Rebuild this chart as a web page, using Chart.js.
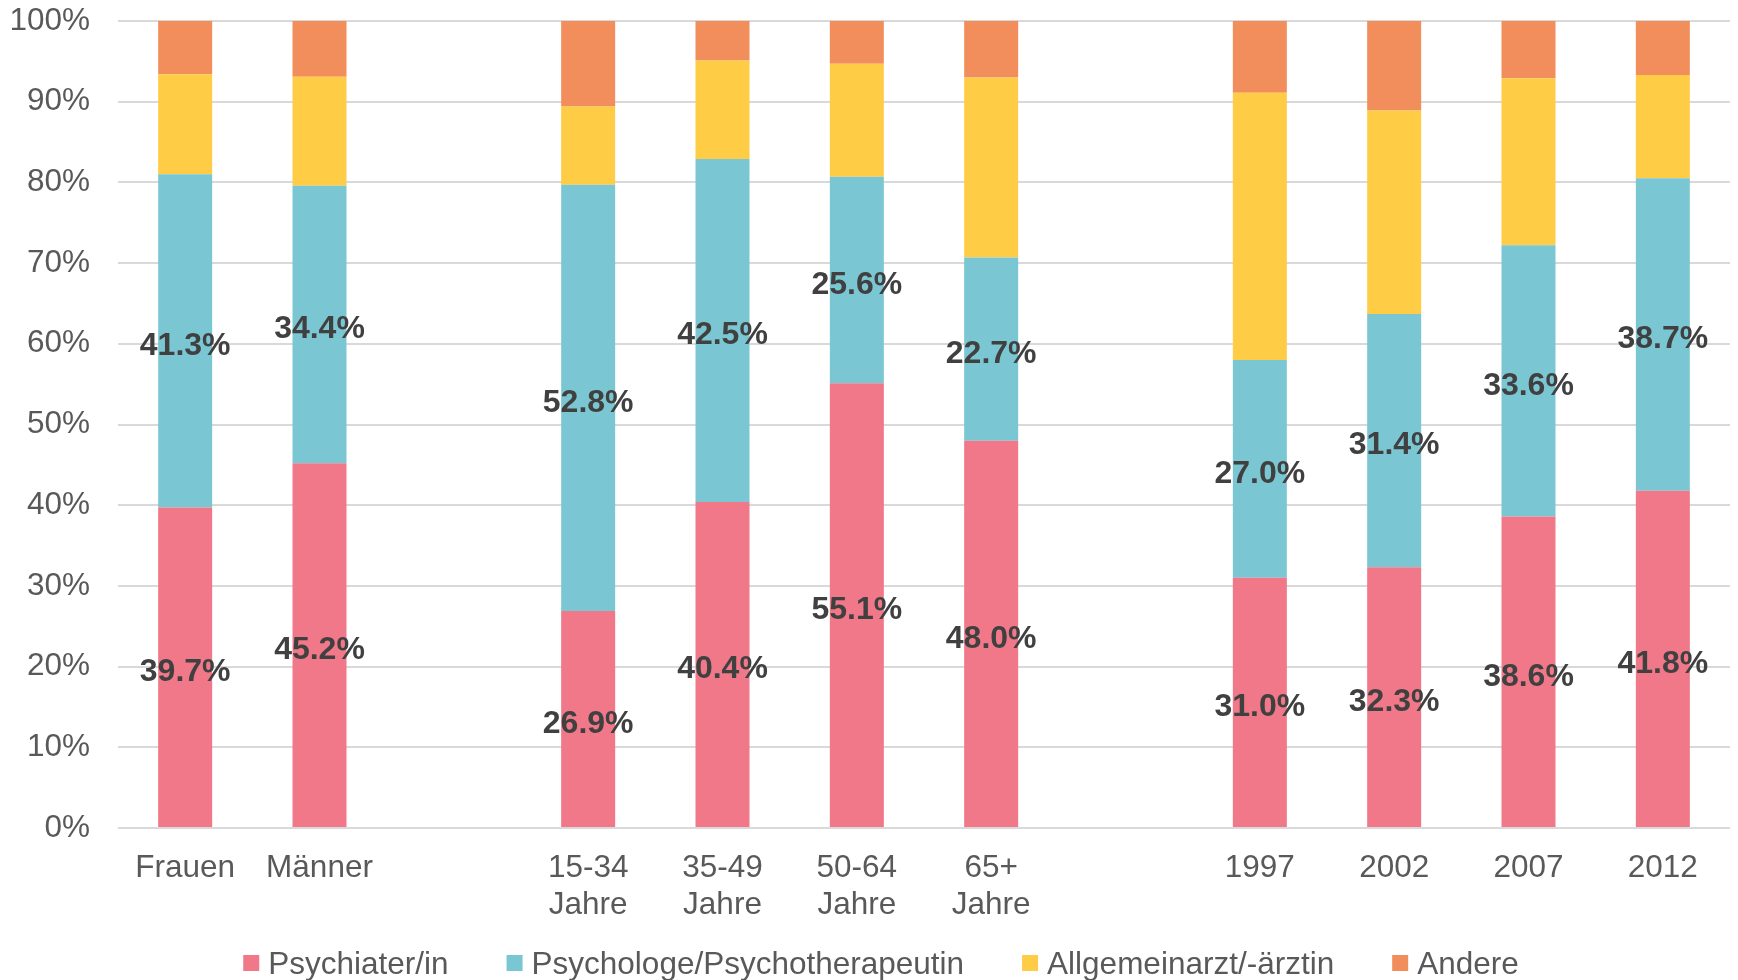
<!DOCTYPE html>
<html>
<head>
<meta charset="utf-8">
<title>Behandelnde Fachpersonen</title>
<script src="https://cdn.jsdelivr.net/npm/chart.js@4.4.1/dist/chart.umd.min.js"></script>
<style>
  html, body { margin: 0; padding: 0; background: #ffffff; }
  #c { display: block; }
</style>
</head>
<body>
<canvas id="c" width="1738" height="980"></canvas>
<script>
// Groups: sex, age bands, survey years (empty slots separate the groups)
const categories = ['Frauen', 'Männer', '', ['15-34', 'Jahre'], ['35-49', 'Jahre'], ['50-64', 'Jahre'], ['65+', 'Jahre'], '', '1997', '2002', '2007', '2012'];

const seriesNames = ['Psychiater/in', 'Psychologe/Psychotherapeutin', 'Allgemeinarzt/-ärztin', 'Andere'];

// Shares in percent
const psychiater  = [39.7, 45.2, null, 26.9, 40.4, 55.1, 48.0, null, 31.0, 32.3, 38.6, 41.8];
const psychologe  = [41.3, 34.4, null, 52.8, 42.5, 25.6, 22.7, null, 27.0, 31.4, 33.6, 38.7];
const allgemein   = [12.4, 13.5, null,  9.7, 12.2, 14.0, 22.3, null, 33.1, 25.2, 20.7, 12.8];
const andere      = [ 6.6,  6.9, null, 10.6,  4.9,  5.3,  7.0, null,  8.9, 11.1,  7.1,  6.7];

const yTicks = [0, 10, 20, 30, 40, 50, 60, 70, 80, 90, 100];

const colors = ['#F07889', '#7AC7D3', '#FFCC46', '#F28E5C'];
const FONT = '"Liberation Sans", Arial, Helvetica, sans-serif';
const TEXT_SIZE = 31.5;

// Percentage labels centred in the two lower segments
const valueLabels = {
  id: 'valueLabels',
  afterDatasetsDraw(chart) {
    const ctx = chart.ctx;
    ctx.save();
    ctx.font = 'bold 32px ' + FONT;
    ctx.fillStyle = '#404040';
    ctx.textAlign = 'center';
    ctx.textBaseline = 'middle';
    [0, 1].forEach(di => {
      const meta = chart.getDatasetMeta(di);
      const data = chart.data.datasets[di].data;
      meta.data.forEach((bar, i) => {
        const v = data[i];
        if (v == null) return;
        const p = bar.getProps(['x', 'y', 'base'], true);
        ctx.fillText(v.toFixed(1) + '%', p.x, (p.y + p.base) / 2 + 5);
      });
    });
    ctx.restore();
  }
};

// Single-row legend under the axis labels
const bottomLegend = {
  id: 'bottomLegend',
  afterDraw(chart) {
    const ctx = chart.ctx;
    const box = 16, textGap = 9, itemGap = 58, centerX = 881, midY = 963;
    ctx.save();
    ctx.font = TEXT_SIZE + 'px ' + FONT;
    ctx.textBaseline = 'middle';
    ctx.textAlign = 'left';
    const items = chart.data.datasets.map(ds => ({
      text: ds.label, color: ds.backgroundColor, w: ctx.measureText(ds.label).width
    }));
    const total = items.reduce((s, it) => s + box + textGap + it.w, 0) + itemGap * (items.length - 1);
    let x = centerX - total / 2;
    items.forEach(it => {
      ctx.fillStyle = it.color;
      ctx.fillRect(x, midY - box / 2, box, box);
      ctx.fillStyle = '#595959';
      ctx.fillText(it.text, x + box + textGap, midY + 2);
      x += box + textGap + it.w + itemGap;
    });
    ctx.restore();
  }
};

const seriesData = [psychiater, psychologe, allgemein, andere];

new Chart(document.getElementById('c'), {
  type: 'bar',
  data: {
    labels: categories,
    datasets: seriesNames.map((name, k) => ({
      label: name,
      data: seriesData[k],
      backgroundColor: colors[k],
      borderWidth: 0,
      categoryPercentage: 1.0,
      barPercentage: 0.402
    }))
  },
  options: {
    responsive: false,
    devicePixelRatio: 1,
    animation: false,
    layout: { padding: { left: 12, right: 8, top: 21, bottom: 56 } },
    plugins: {
      legend: { display: false },
      tooltip: { enabled: false }
    },
    scales: {
      x: {
        stacked: true,
        grid: { display: false, drawTicks: false },
        border: { display: false },
        ticks: {
          color: '#595959',
          font: { family: FONT, size: TEXT_SIZE, lineHeight: 1.2 },
          padding: 21,
          maxRotation: 0,
          autoSkip: false
        },
        afterFit(scale) { scale.height = 96; scale.paddingLeft = 0; scale.paddingRight = 0; }
      },
      y: {
        stacked: true,
        min: 0,
        max: 100,
        afterBuildTicks(scale) { scale.ticks = yTicks.map(v => ({ value: v })); },
        grid: { color: '#D9D9D9', lineWidth: 2, drawTicks: false },
        border: { display: false },
        ticks: {
          color: '#595959',
          font: { family: FONT, size: TEXT_SIZE },
          padding: 28,
          callback: v => v + '%'
        },
        afterFit(scale) { scale.width = 106; scale.paddingTop = 0; scale.paddingBottom = 0; }
      }
    }
  },
  plugins: [valueLabels, bottomLegend]
});
</script>
</body>
</html>
